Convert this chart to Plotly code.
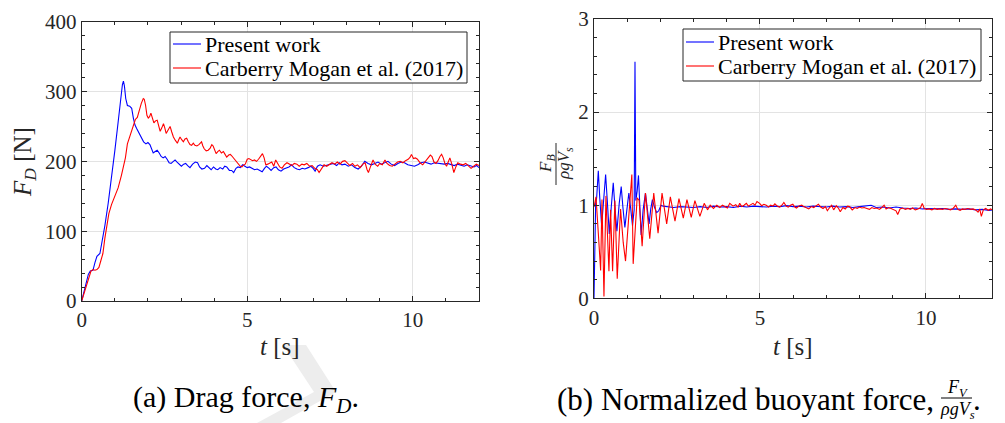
import plotly.graph_objects as go

# ---------------- data ----------------
# (a) drag force F_D [N] versus time t [s]
t_fd_present = [0.00, 0.10, 0.20, 0.26, 0.34, 0.40, 0.46, 0.55, 0.62, 0.70, 0.80, 0.90, 1.00, 1.10,
                1.18, 1.23, 1.26, 1.29, 1.33, 1.38, 1.45, 1.51, 1.56, 1.61, 1.66, 1.71, 1.76, 1.81,
                1.87, 1.94, 2.00, 2.06, 2.11, 2.16, 2.22, 2.28, 2.34, 2.40, 2.46, 2.52, 2.58, 2.64,
                2.70, 2.76, 2.82, 2.88, 2.94, 3.01, 3.08, 3.14, 3.20, 3.27, 3.35, 3.43, 3.50, 3.56,
                3.63, 3.71, 3.78, 3.84, 3.91, 3.98, 4.05, 4.11, 4.18, 4.26, 4.32, 4.38, 4.46, 4.53,
                4.59, 4.66, 4.72, 4.79, 4.86, 4.93, 5.00, 5.07, 5.14, 5.22, 5.30, 5.38, 5.45, 5.52,
                5.58, 5.66, 5.72, 5.80, 5.87, 5.94, 6.02, 6.10, 6.18, 6.26, 6.34, 6.42, 6.50, 6.58,
                6.66, 6.74, 6.84, 6.92, 6.99, 7.05, 7.12, 7.20, 7.30, 7.40, 7.50, 7.60, 7.70, 7.78,
                7.86, 7.95, 8.05, 8.15, 8.25, 8.35, 8.45, 8.55, 8.65, 8.75, 8.85, 8.95, 9.05, 9.15,
                9.25, 9.35, 9.45, 9.55, 9.65, 9.75, 9.85, 9.95, 10.05, 10.15, 10.25, 10.35, 10.45,
                10.55, 10.65, 10.75, 10.85, 10.95, 11.05, 11.15, 11.25, 11.35, 11.45, 11.55, 11.65,
                11.75, 11.85, 11.93, 12.00]
fd_present = [0, 18, 38, 43, 44, 55, 64, 68, 85, 108, 140, 175, 215, 256,
              292, 310, 315, 308, 290, 280, 279, 276, 262, 252, 247, 242, 238, 234,
              228, 225, 227, 224, 217, 212, 214, 216, 212, 207, 205, 207, 203, 198,
              197, 200, 202, 199, 196, 193, 196, 197, 194, 191, 196, 199, 198, 192,
              189, 190, 194, 191, 188, 192, 189, 188, 191, 189, 193, 192, 187, 187,
              184, 190, 192, 191, 195, 193, 191, 192, 190, 188, 189, 187, 185, 190,
              193, 190, 187, 191, 192, 188, 186, 189, 190, 192, 195, 191, 189, 188,
              190, 189, 191, 193, 190, 186, 193, 195, 193, 194, 196, 197, 194, 198,
              195, 196, 193, 195, 191, 189, 193, 200, 197, 195, 197, 199, 196, 198,
              200, 196, 194, 197, 199, 198, 195, 194, 193, 195, 198, 199, 197,
              196, 198, 197, 196, 196, 197, 195, 194, 196, 194, 193, 195,
              193, 192, 194, 191]

t_fd_carberry = [0.00, 0.10, 0.20, 0.28, 0.34, 0.40, 0.46, 0.52, 0.58, 0.64, 0.70, 0.76, 0.82, 0.90,
                 1.00, 1.10, 1.20, 1.26, 1.32, 1.38, 1.44, 1.50, 1.56, 1.62, 1.68, 1.74, 1.80, 1.86,
                 1.89, 1.93, 1.97, 2.01, 2.05, 2.09, 2.14, 2.18, 2.23, 2.28, 2.33, 2.37, 2.42, 2.47,
                 2.51, 2.55, 2.61, 2.67, 2.72, 2.77, 2.83, 2.89, 2.93, 2.97, 3.02, 3.07, 3.12, 3.17,
                 3.22, 3.27, 3.32, 3.37, 3.42, 3.48, 3.54, 3.59, 3.62, 3.66, 3.70, 3.76, 3.82, 3.88,
                 3.93, 3.97, 4.02, 4.06, 4.11, 4.16, 4.22, 4.28, 4.33, 4.38, 4.44, 4.49, 4.53, 4.58,
                 4.63, 4.68, 4.74, 4.79, 4.84, 4.89, 4.94, 5.00, 5.05, 5.10, 5.16, 5.22, 5.28, 5.34,
                 5.40, 5.46, 5.51, 5.56, 5.62, 5.68, 5.74, 5.80, 5.86, 5.92, 5.98, 6.05, 6.12, 6.20,
                 6.28, 6.35, 6.42, 6.50, 6.57, 6.65, 6.72, 6.80, 6.88, 6.96, 7.04, 7.12, 7.17, 7.24,
                 7.32, 7.40, 7.48, 7.56, 7.64, 7.72, 7.80, 7.88, 7.95, 8.02, 8.10, 8.18, 8.25, 8.33,
                 8.41, 8.49, 8.56, 8.62, 8.66, 8.72, 8.80, 8.86, 8.94, 9.00, 9.08, 9.16, 9.22, 9.30,
                 9.38, 9.46, 9.54, 9.62, 9.70, 9.78, 9.86, 9.92, 9.96, 10.02, 10.08, 10.14, 10.22,
                 10.30, 10.38, 10.46, 10.53, 10.58, 10.64, 10.70, 10.76, 10.82, 10.87, 10.92, 10.97,
                 11.02, 11.08, 11.12, 11.18, 11.24, 11.30, 11.36, 11.44, 11.52, 11.60, 11.68, 11.76,
                 11.84, 11.92, 12.00]
fd_carberry = [0, 15, 32, 43, 45, 44, 45, 48, 58, 68, 90, 110, 125, 138,
               150, 162, 180, 192, 205, 225, 234, 240, 252, 260, 263, 274, 283, 290,
               289, 280, 266, 262, 264, 269, 262, 255, 258, 259, 250, 243, 248, 254,
               248, 240, 245, 250, 242, 235, 230, 226, 231, 235, 231, 228, 232, 233,
               228, 224, 223, 226, 223, 222, 224, 227, 228, 222, 218, 215, 216, 219,
               224, 222, 215, 211, 214, 216, 212, 214, 210, 206, 209, 210, 208, 205,
               202, 200, 196, 193, 192, 195, 196, 203, 204, 203, 201, 202, 200, 203,
               207, 211, 205, 195, 196, 197, 199, 193, 202, 197, 192, 190, 195, 198,
               196, 194, 197, 196, 193, 196, 195, 197, 193, 194, 190, 188, 184, 190,
               195, 193, 195, 198, 196, 199, 196, 200, 201, 197, 194, 197, 193, 195,
               191, 196, 198, 188, 184, 192, 202, 196, 193, 197, 195, 202, 197, 194,
               193, 196, 199, 200, 198, 201, 203, 206, 210, 204, 205, 203, 198,
               195, 200, 205, 209, 207, 199, 197, 201, 207, 210, 205, 197,
               193, 200, 205, 196, 184, 192, 198, 196, 195, 197, 193, 190,
               193, 196, 194]

# (b) normalised buoyant force F_B / (rho g V_s) versus time t [s]
t_fb_present = [0.00, 0.02, 0.05, 0.08, 0.13, 0.17, 0.23, 0.29, 0.35, 0.40, 0.46, 0.52, 0.58, 0.63,
                0.69, 0.76, 0.82, 0.87, 0.93, 0.99, 1.05, 1.10, 1.16, 1.21, 1.235, 1.26, 1.30, 1.34,
                1.38, 1.42, 1.48, 1.55, 1.60, 1.66, 1.71, 1.76, 1.82, 1.89, 1.95, 2.02, 2.08,
                2.2, 2.4, 2.6, 2.8, 3.0, 3.2, 3.4, 3.6, 3.8, 4.0, 4.2, 4.4, 4.6, 4.8, 5.0, 5.2,
                5.4, 5.6, 5.8, 6.0, 6.2, 6.4, 6.6, 6.8, 7.0, 7.2, 7.4, 7.6, 7.8, 8.0, 8.2, 8.35,
                8.5, 8.7, 8.9, 9.1, 9.3, 9.5, 9.7, 9.9, 10.1, 10.3, 10.5, 10.7, 10.9, 11.1, 11.3,
                11.5, 11.7, 11.9, 12.0]
fb_present = [0.00, 0.55, 1.02, 1.08, 1.37, 1.10, 0.78, 1.05, 1.33, 1.05, 0.69, 0.98, 1.24, 0.98,
              0.72, 1.02, 1.20, 0.98, 0.76, 0.95, 1.13, 0.98, 0.78, 0.95, 2.54, 1.05, 1.15, 1.32,
              1.00, 0.68, 0.95, 1.13, 0.98, 0.80, 0.96, 1.06, 0.98, 0.92, 0.94, 1.00, 0.99,
              0.985, 0.975, 0.985, 0.980, 0.975, 0.985, 0.975, 0.990, 0.980, 0.985, 0.975, 0.990,
              0.980, 0.990, 0.985, 0.980, 0.990, 0.985, 0.995, 0.985, 0.990, 0.980, 0.990, 0.985,
              0.980, 0.990, 0.980, 0.985, 0.975, 0.985, 0.990, 1.000, 0.975, 0.980, 0.970, 0.980,
              0.970, 0.965, 0.970, 0.960, 0.965, 0.960, 0.965, 0.955, 0.960, 0.955, 0.960, 0.950,
              0.955, 0.945, 0.950]

t_fb_carberry = [0.00, 0.06, 0.13, 0.20, 0.24, 0.30, 0.36, 0.45, 0.50, 0.56, 0.63, 0.70, 0.80, 0.88,
                 0.95, 1.05, 1.14, 1.18, 1.30, 1.36, 1.45, 1.55, 1.68, 1.80, 1.93, 2.05, 2.19, 2.30,
                 2.44, 2.56, 2.69, 2.80, 2.93, 3.04, 3.19, 3.32, 3.42, 3.50, 3.60, 3.70, 3.79, 3.87,
                 3.94, 4.02, 4.09, 4.19, 4.27, 4.34, 4.39, 4.45, 4.52, 4.59, 4.65, 4.72, 4.79, 4.85,
                 4.91, 4.99, 5.05, 5.12, 5.19, 5.26, 5.32, 5.39, 5.45, 5.52, 5.59, 5.66, 5.72, 5.79,
                 5.85, 5.92, 5.99, 6.05, 6.10, 6.19, 6.26, 6.32, 6.39, 6.47, 6.55, 6.62, 6.70, 6.76,
                 6.83, 6.90, 6.97, 7.03, 7.10, 7.16, 7.22, 7.30, 7.37, 7.42, 7.50, 7.57, 7.64, 7.70,
                 7.78, 7.86, 7.93, 8.00, 8.07, 8.14, 8.22, 8.30, 8.37, 8.44, 8.52, 8.60, 8.67, 8.74,
                 8.80, 8.88, 8.95, 9.03, 9.10, 9.15, 9.22, 9.30, 9.38, 9.46, 9.53, 9.60, 9.68, 9.76,
                 9.84, 9.89, 9.95, 10.02, 10.10, 10.18, 10.26, 10.34, 10.42, 10.50, 10.58, 10.66,
                 10.74, 10.82, 10.90, 10.96, 11.03, 11.10, 11.18, 11.26, 11.34, 11.42, 11.50, 11.57,
                 11.62, 11.67, 11.73, 11.80, 11.88, 11.95, 12.00]
fb_carberry = [0.98, 1.09, 0.70, 0.30, 1.06, 0.02, 1.10, 0.29, 0.95, 0.29, 1.05, 0.21, 0.96, 0.60,
               0.40, 0.90, 1.33, 0.37, 1.08, 1.05, 0.56, 1.13, 0.64, 1.13, 0.70, 1.13, 0.80, 1.09,
               0.83, 1.07, 0.86, 1.06, 0.87, 1.05, 0.88, 1.02, 0.95, 1.00, 0.965, 1.00, 0.975, 1.00,
               0.99, 0.97, 1.02, 0.99, 1.005, 0.98, 1.02, 0.985, 1.00, 1.02, 0.99, 1.005, 1.02, 1.00,
               1.04, 1.02, 0.995, 1.01, 1.00, 0.98, 1.00, 0.99, 1.015, 0.99, 0.98, 1.00, 1.03, 0.99,
               0.98, 1.00, 1.01, 0.98, 0.97, 0.995, 1.00, 0.985, 0.975, 0.96, 0.985, 0.975, 0.995, 1.01,
               0.98, 0.965, 0.985, 0.94, 0.975, 1.00, 0.95, 0.995, 0.965, 0.93, 0.975, 0.96, 0.99, 0.985,
               0.95, 0.975, 0.965, 0.98, 0.97, 0.975, 0.965, 0.955, 0.975, 0.965, 0.97, 0.955, 0.975, 1.00,
               0.96, 0.975, 0.965, 0.955, 0.94, 0.90, 0.96, 0.97, 0.955, 0.965, 0.955, 0.97, 0.95, 0.96,
               0.975, 1.02, 0.965, 0.955, 0.96, 0.95, 0.965, 0.955, 0.96, 0.955, 0.965, 0.96,
               0.95, 0.965, 1.00, 0.955, 0.945, 0.96, 0.955, 0.965, 0.955, 0.96, 0.95, 0.925,
               0.96, 0.88, 0.95, 0.965, 0.945, 0.96, 0.95]

# axis ticks
t_ticks = [0, 5, 10]
fd_ticks = [0, 100, 200, 300, 400]
fb_ticks = [0, 1, 2, 3]

series_names = ["Present work", "Carberry Mogan et al. (2017)"]
series_colors = ["#0000ff", "#ff0000"]
INK = "#262626"
SERIF = "Liberation Serif"

W, H = 1005, 423


def px(x):
    return x / W


def py(y):
    return 1 - y / H


fig = go.Figure()

panels = [
    ("x", "y", [(t_fd_present, fd_present), (t_fd_carberry, fd_carberry)]),
    ("x2", "y2", [(t_fb_present, fb_present), (t_fb_carberry, fb_carberry)]),
]
for xa, ya, series in panels:
    for (tt, vv), name, color in zip(series, series_names, series_colors):
        fig.add_trace(go.Scatter(x=tt, y=vv, mode="lines", name=name, showlegend=False,
                                 line=dict(color=color, width=1.1), xaxis=xa, yaxis=ya))


def axis_style(tickvals, minor_step, rng):
    return dict(
        range=rng, tickvals=tickvals, ticks="inside", ticklen=5, tickcolor=INK, tickwidth=1,
        showline=True, linecolor=INK, linewidth=1, mirror="allticks", automargin=False,
        showgrid=True, gridcolor="#e3e3e3", gridwidth=1, zeroline=False,
        tickfont=dict(family=SERIF, size=21, color=INK),
        minor=dict(dtick=minor_step, tick0=0, ticks="inside", ticklen=3, tickcolor=INK, showgrid=False),
        fixedrange=True,
    )


fig.update_layout(
    width=W, height=H, margin=dict(l=0, r=0, t=0, b=0, autoexpand=False),
    paper_bgcolor="white", plot_bgcolor="white", showlegend=False,
    xaxis=dict(domain=[px(81.7), px(479)], anchor="y", **axis_style(t_ticks, 1, [0, 12])),
    yaxis=dict(domain=[py(301), py(21.7)], anchor="x", **axis_style(fd_ticks, 20, [0, 400])),
    xaxis2=dict(domain=[px(594), px(992.3)], anchor="y2", **axis_style(t_ticks, 1, [0, 12])),
    yaxis2=dict(domain=[py(298.3), py(19)], anchor="x2", **axis_style(fb_ticks, 0.2, [0, 3])),
)

title_font = dict(family=SERIF, size=25, color=INK)
cap_font_a = dict(family=SERIF, size=30, color="#000000")
cap_font_b = dict(family=SERIF, size=31, color="#000000")
frac_font = dict(family=SERIF, size=17, color=INK)
cap_frac_font = dict(family=SERIF, size=18, color="#000000")
legend_font = dict(family=SERIF, size=22, color="#000000")

annotations = [
    # axis titles
    dict(x=px(280), y=py(346), text="<i>t</i> [s]", font=title_font),
    dict(x=px(793), y=py(346), text="<i>t</i> [s]", font=title_font),
    dict(x=px(24), y=py(162), text="<i>F<sub>D</sub></i> [N]", font=title_font, textangle=-90),
    dict(x=px(547), y=py(164), text="<i>F<sub>B</sub></i>", font=frac_font, textangle=-90),
    dict(x=px(565), y=py(164), text="<i>ρgV<sub>s</sub></i>", font=frac_font, textangle=-90),
    # sub-figure captions
    dict(x=px(246), y=py(399), text="(a) Drag force, <i>F<sub>D</sub></i>.", font=cap_font_a),
    dict(x=px(936), y=py(399), xanchor="right", text="(b) Normalized buoyant force,", font=cap_font_b),
    dict(x=px(957), y=py(388), text="<i>F<sub>V</sub></i>", font=cap_frac_font),
    dict(x=px(957), y=py(410), text="<i>ρgV<sub>s</sub></i>", font=cap_frac_font),
    dict(x=px(977), y=py(399), text=".", font=cap_font_b),
]


def path_from(points):
    return "M " + " L ".join(f"{px(x):.5f},{py(y):.5f}" for x, y in points) + " Z"


shapes = [
    # faint page watermark fragment behind the left caption
    dict(type="path", xref="paper", yref="paper", layer="below", line=dict(width=0),
         fillcolor="#ededed",
         path=path_from([(257, 423), (281, 423), (336, 392), (306, 345), (283, 345), (314, 392)])),
    # fraction bars
    dict(type="line", xref="paper", yref="paper", x0=px(556), x1=px(556), y0=py(143), y1=py(185),
         line=dict(color=INK, width=1)),
    dict(type="line", xref="paper", yref="paper", x0=px(941), x1=px(972), y0=py(398), y1=py(398),
         line=dict(color="#000000", width=1)),
]

# legend boxes (left, top, right, bottom in pixels) and their two rows
legend_boxes = [(170, 32, 467, 83, [44, 68]), (683, 29, 981, 81, [42, 66])]
for x0, y0, x1, y1, rows in legend_boxes:
    shapes.append(dict(type="rect", xref="paper", yref="paper", x0=px(x0), x1=px(x1),
                       y0=py(y1), y1=py(y0), fillcolor="white", line=dict(color=INK, width=1),
                       layer="above"))
    for ry, name, color in zip(rows, series_names, series_colors):
        shapes.append(dict(type="line", xref="paper", yref="paper", x0=px(x0 + 3), x1=px(x0 + 31),
                           y0=py(ry), y1=py(ry), line=dict(color=color, width=1.1), layer="above"))
        annotations.append(dict(x=px(x0 + 33), y=py(ry), xanchor="left", text=name, font=legend_font))

for a in annotations:
    a.setdefault("xanchor", "center")
    a.setdefault("yanchor", "middle")
    a.update(xref="paper", yref="paper", showarrow=False)

fig.update_layout(annotations=annotations, shapes=shapes)

fig.write_html("out.html")
